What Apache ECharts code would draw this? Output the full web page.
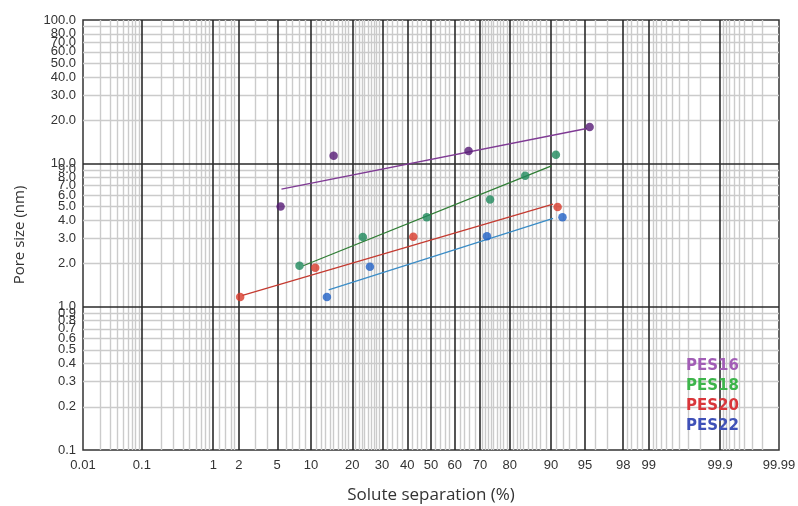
<!DOCTYPE html>
<html>
<head>
<meta charset="utf-8">
<script src="https://cdn.jsdelivr.net/npm/echarts@6/dist/echarts.min.js"></script>
<style>html,body{margin:0;padding:0;background:#fff}#c{width:798px;height:506px}</style>
</head>
<body>
<div id="c"></div>
<script>
// ---- data (x in %, y in nm) ----
const seriesNames = ['PES16', 'PES18', 'PES20', 'PES22'];
const pes16Points = [[5.4, 5.0], [14.9, 11.3], [65.6, 12.2], [95.5, 17.9]];
const pes18Points = [[8.0, 1.93], [23.3, 3.06], [48.2, 4.2], [73.6, 5.6], [84.3, 8.2], [90.9, 11.5]];
const pes20Points = [[2.07, 1.17], [10.8, 1.87], [42.5, 3.08], [91.2, 4.95]];
const pes22Points = [[13.3, 1.17], [25.7, 1.9], [72.5, 3.1], [92.0, 4.2]];
const pes16Fit = [[5.5, 6.6], [95.2, 17.5]];
const pes18Fit = [[8.6, 1.93], [90.1, 9.6]];
const pes20Fit = [[2.2, 1.2], [90.4, 5.2]];
const pes22Fit = [[13.7, 1.31], [90.4, 4.13]];

// tick labels
const xTickLabels = [0.01, 0.1, 1, 2, 5, 10, 20, 30, 40, 50, 60, 70, 80, 90, 95, 98, 99, 99.9, 99.99];
const yTickLabels = [0.1, 0.2, 0.3, 0.4, 0.5, 0.6, 0.7, 0.8, 0.9, 1, 2, 3, 4, 5, 6, 7, 8, 9, 10, 20, 30, 40, 50, 60, 70, 80, 90, 99.999];
// grid lines
const xMinorGrid = [0.02, 0.03, 0.04, 0.05, 0.06, 0.07, 0.08, 0.09,
  0.2, 0.3, 0.4, 0.5, 0.6, 0.7, 0.8, 0.9, 1.2, 1.4, 1.6, 1.8, 3, 4, 6, 7, 8, 9,
  11, 12, 13, 14, 15, 16, 17, 18, 19, 21, 22, 23, 24, 25, 26, 27, 28, 29,
  32, 34, 36, 38, 42, 44, 46, 48, 52, 54, 56, 58, 62, 64, 66, 68,
  71, 72, 73, 74, 75, 76, 77, 78, 79, 81, 82, 83, 84, 85, 86, 87, 88, 89,
  91, 92, 93, 94, 96, 97, 98.2, 98.4, 98.6, 98.8,
  99.1, 99.2, 99.3, 99.4, 99.5, 99.6, 99.7, 99.8,
  99.91, 99.92, 99.93, 99.94, 99.95, 99.96, 99.97, 99.98];
const xMajorGrid = [0.1, 1, 2, 5, 10, 20, 30, 40, 50, 60, 70, 80, 90, 95, 98, 99, 99.9];
const yMinorGrid = [0.2, 0.3, 0.4, 0.5, 0.6, 0.7, 0.8, 0.9, 2, 3, 4, 5, 6, 7, 8, 9, 20, 30, 40, 50, 60, 70, 80, 90];
const yMajorGrid = [1, 10];

const lineColors = ['#7f3a94', '#2f7d34', '#c43a30', '#3a8cc6'];
const pointColors = ['#561a76', '#1f8a5c', '#d83a2a', '#1f60c6'];
const legendColors = ['#a25db6', '#3db54b', '#d9363b', '#3f51b8'];

// probability (normal probit) transform for the x axis
function probit(pct) {
  const p = pct / 100;
  const a = [-3.969683028665376e+01, 2.209460984245205e+02, -2.759285104469687e+02, 1.383577518672690e+02, -3.066479806614716e+01, 2.506628277459239e+00];
  const b = [-5.447609879822406e+01, 1.615858368580409e+02, -1.556989798598866e+02, 6.680131188771972e+01, -1.328068155288572e+01];
  const c = [-7.784894002430293e-03, -3.223964580411365e-01, -2.400758277161838e+00, -2.549732539343734e+00, 4.374664141464968e+00, 2.938163982698783e+00];
  const d = [7.784695709041462e-03, 3.224671290700398e-01, 2.445134137142996e+00, 3.754408661907416e+00];
  const plow = 0.02425;
  let q, r;
  if (p < plow) {
    q = Math.sqrt(-2 * Math.log(p));
    return (((((c[0]*q+c[1])*q+c[2])*q+c[3])*q+c[4])*q+c[5]) / ((((d[0]*q+d[1])*q+d[2])*q+d[3])*q+1);
  } else if (p <= 1 - plow) {
    q = p - 0.5; r = q * q;
    return (((((a[0]*r+a[1])*r+a[2])*r+a[3])*r+a[4])*r+a[5])*q / (((((b[0]*r+b[1])*r+b[2])*r+b[3])*r+b[4])*r+1);
  } else {
    q = Math.sqrt(-2 * Math.log(1 - p));
    return -(((((c[0]*q+c[1])*q+c[2])*q+c[3])*q+c[4])*q+c[5]) / ((((d[0]*q+d[1])*q+d[2])*q+d[3])*q+1);
  }
}
const toXY = arr => arr.map(([x, y]) => [probit(x), y]);

const pointSets = [pes16Points, pes18Points, pes20Points, pes22Points];
const fitSets = [pes16Fit, pes18Fit, pes20Fit, pes22Fit];

const chart = echarts.init(document.getElementById('c'), null, {renderer: 'canvas'});
const labelFont = {fontFamily: '"Liberation Sans", Arial, sans-serif', fontSize: 13, color: '#333'};

const series = [
  {
    type: 'line', data: [], silent: true, z: 1,
    markLine: {
      silent: true, symbol: ['none', 'none'], label: {show: false}, animation: false,
      lineStyle: {color: '#cbcbcb', width: 1.4, type: 'solid'},
      data: xMinorGrid.map(v => ({xAxis: probit(v)})).concat(yMinorGrid.map(v => ({yAxis: v})))
    }
  },
  {
    type: 'line', data: [], silent: true, z: 2,
    markLine: {
      silent: true, symbol: ['none', 'none'], label: {show: false}, animation: false,
      lineStyle: {color: '#2a2a2a', width: 1.6, type: 'solid'},
      data: xMajorGrid.map(v => ({xAxis: probit(v)})).concat(yMajorGrid.map(v => ({yAxis: v})))
    }
  }
];
seriesNames.forEach((n, i) => {
  series.push({
    name: n, type: 'line', data: toXY(fitSets[i]), symbol: 'none', z: 5,
    lineStyle: {color: lineColors[i], width: 1.3}, animation: false
  });
  series.push({
    name: n, type: 'scatter', data: toXY(pointSets[i]), symbol: 'circle', symbolSize: 8.5, z: 6,
    itemStyle: {color: pointColors[i]}, animation: false
  });
});

chart.setOption({
  animation: false,
  grid: {left: 83, top: 20, right: 19, bottom: 56, outerBoundsMode: 'none', containLabel: false,
    show: true, borderColor: '#333', borderWidth: 1.5, backgroundColor: 'transparent'},
  xAxis: {
    type: 'value', min: probit(0.01), max: probit(99.99),
    name: 'Solute separation (%)', nameLocation: 'middle', nameGap: 37,
    nameTextStyle: {fontFamily: '"Open Sans", sans-serif', fontSize: 17, color: '#333'},
    axisLine: {show: false}, axisTick: {show: false}, splitLine: {show: false},
    axisLabel: Object.assign({
      customValues: xTickLabels.map(probit), margin: 9, showMinLabel: true, showMaxLabel: true,
      formatter: function (val) {
        let best = xTickLabels[0], bd = Infinity;
        xTickLabels.forEach(t => { const dd = Math.abs(probit(t) - val); if (dd < bd) { bd = dd; best = t; } });
        return String(best);
      }
    }, labelFont)
  },
  yAxis: {
    type: 'log', logBase: 10, min: 0.1, max: 100,
    name: 'Pore size (nm)', nameLocation: 'middle', nameGap: 56,
    nameTextStyle: {fontFamily: '"Open Sans", sans-serif', fontSize: 15, color: '#333'},
    axisLine: {show: false}, axisTick: {show: false}, splitLine: {show: false}, minorSplitLine: {show: false},
    axisLabel: Object.assign({
      customValues: yTickLabels, margin: 7, showMinLabel: true, showMaxLabel: true,
      formatter: v => Number(v).toFixed(1)
    }, labelFont)
  },
  graphic: seriesNames.map((n, i) => ({
    type: 'text', left: 686, top: 359 + i * 20, z: 100,
    style: {text: n, fill: legendColors[i], font: 'bold 15px "DejaVu Sans", sans-serif'}
  })),
  series: series
});
</script>
</body>
</html>
